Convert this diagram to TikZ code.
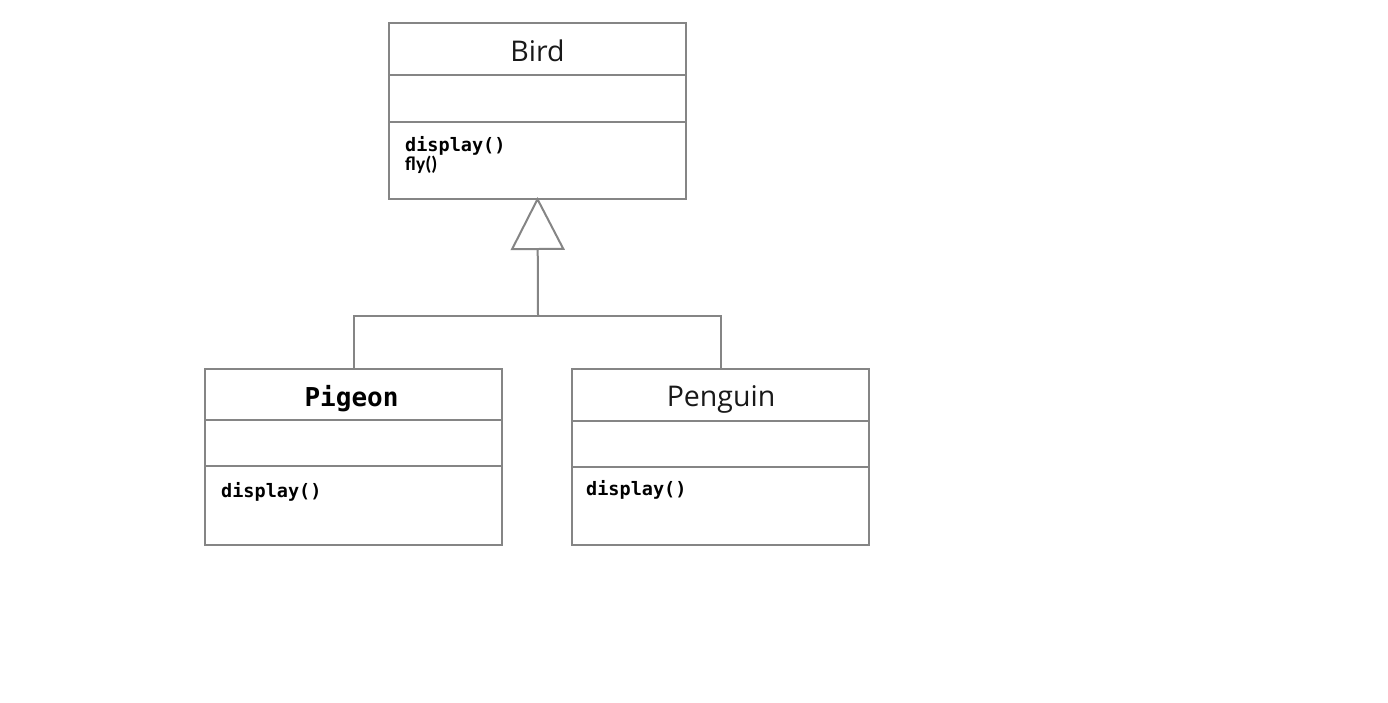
\documentclass[tikz,border=0pt]{standalone}
\usepackage{fontspec}
\setmainfont{Open Sans}
\newfontfamily\monob{DejaVu Sans Mono}
\newfontfamily\calib{Carlito}
\usetikzlibrary{arrows.meta}
\definecolor{linegray}{HTML}{858585}
\tikzset{
  classbox/.style={draw=linegray, line width=2pt, minimum width=297pt, minimum height=176pt, inner sep=0pt, fill=white},
  divider/.style={draw=linegray, line width=2pt},
  conn/.style={draw=linegray, line width=2pt},
  titletxt/.style={font=\fontsize{28.5}{32}\selectfont, text=black!90, inner sep=0pt, anchor=base},
  monotxt/.style={font=\fontsize{18.5}{20}\selectfont\monob\bfseries, inner sep=0pt, anchor=west},
}
\begin{document}
\begin{tikzpicture}[x=1pt,y=-1pt]
\useasboundingbox[fill=white] (0,0) rectangle (1388,702);
% Bird
\node[classbox] (bird) at (537.5,110.5) {};
\draw[divider] (389,75) -- (686,75);
\draw[divider] (389,122) -- (686,122);
\node[titletxt] (birdname) at (537.5,61) {Bird};
\node[monotxt] (birdop1) at (405,146) {display()};
\node[inner sep=0pt, anchor=west, font=\fontsize{19.5}{20}\selectfont\calib\bfseries] (birdop2) at (405,165) {fly()};
% Pigeon
\node[classbox] (pigeon) at (353.5,456.5) {};
\draw[divider] (205,420) -- (502,420);
\draw[divider] (205,466) -- (502,466);
\node[inner sep=0pt, anchor=base, font=\fontsize{26}{30}\selectfont\monob\bfseries] (pigeonname) at (351.5,406.5) {Pigeon};
\node[monotxt] (pigeonop) at (221,492) {display()};
% Penguin
\node[classbox] (penguin) at (720.5,456.5) {};
\draw[divider] (572,421) -- (869,421);
\draw[divider] (572,467) -- (869,467);
\node[titletxt] (penguinname) at (721,406) {Penguin};
\node[monotxt] (penguinop) at (586,490) {display()};
% Generalization
\coordinate (junction) at (538,316);
\draw[conn] (pigeon.north) |- (junction) -| (penguin.north);
\draw[conn, shorten >=-2.5pt, -{Triangle[open, length=53pt, width=54pt, line width=2pt]}] (junction) -- (bird.south);
\end{tikzpicture}
\end{document}
